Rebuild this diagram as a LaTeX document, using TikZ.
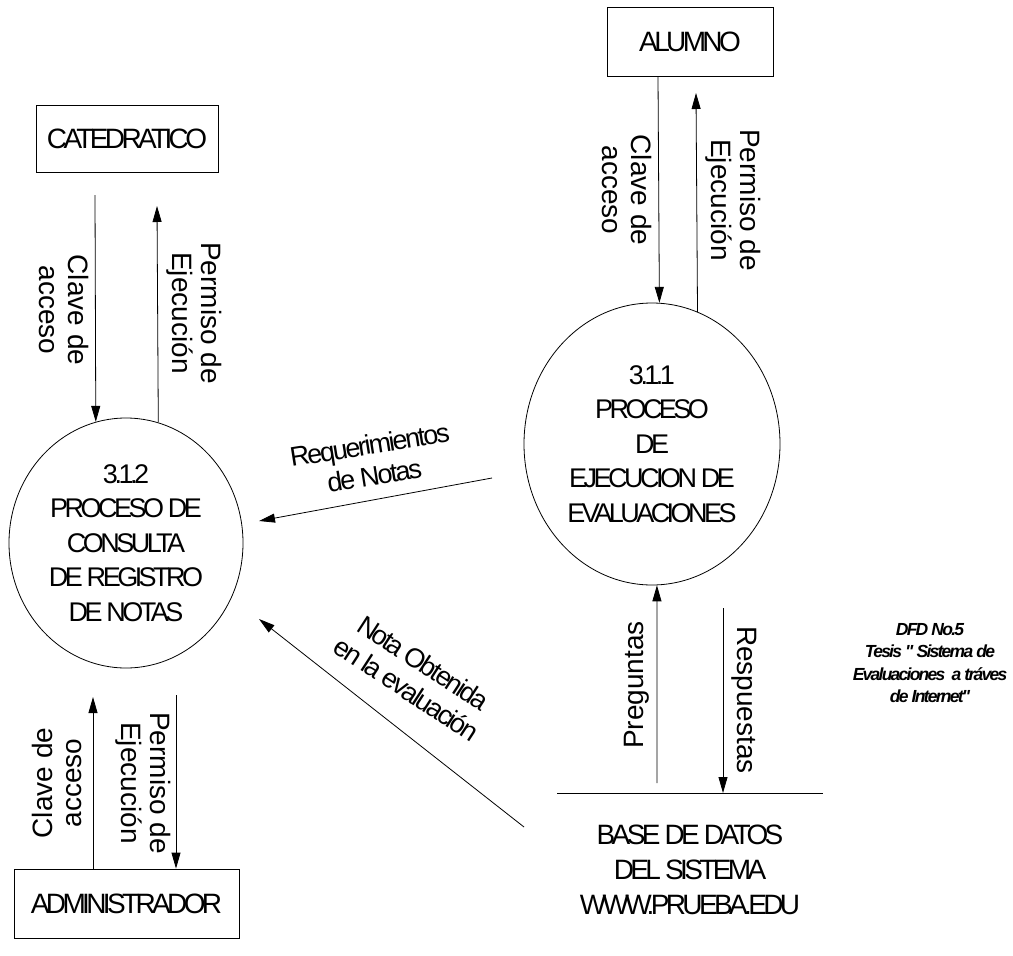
\documentclass[tikz,border=0pt]{standalone}
\usepackage{fontspec}
\setmainfont{Liberation Sans}
\newfontfamily\tightfont{Liberation Sans}[LetterSpace=-13]
\newfontfamily\looserfont{Liberation Sans}[LetterSpace=-8]
\newfontfamily\notefont{Liberation Sans}[LetterSpace=-10]
\usetikzlibrary{shapes.geometric,arrows.meta}

\tikzset{
  entity/.style={draw, line width=0.8pt, inner sep=0pt,
    font=\tightfont\fontsize{28}{30}\selectfont},
  process/.style={draw, ellipse, line width=0.8pt, inner sep=0pt, align=center,
    font=\tightfont\fontsize{27}{34.5}\selectfont},
  flow/.style={-{Triangle[length=16pt,width=9pt]}, line width=0.8pt},
  vlabel/.style={align=center, inner sep=0pt,
    font=\fontsize{28}{28.5}\selectfont},
  dlabel/.style={align=center, inner sep=0pt,
    font=\looserfont\fontsize{27}{31}\selectfont},
}

\begin{document}
\begin{tikzpicture}[x=1pt, y=-1pt]
\useasboundingbox (0,0) rectangle (1013,956);

% external entities
\node[entity, minimum width=182pt, minimum height=67pt] (cat) at (127,138.5) {CATEDRATICO};
\node[entity, minimum width=166pt, minimum height=69pt] (alu) at (690,41.5) {ALUMNO};
\node[entity, minimum width=225pt, minimum height=69pt] (adm) at (126.5,903.5) {ADMINISTRADOR};

% processes
\node[process, minimum width=234pt, minimum height=250pt] (p312) at (126,543)
  {3.1.2\\PROCESO DE\\CONSULTA\\DE REGISTRO\\DE NOTAS};
\node[process, minimum width=256pt, minimum height=282pt] (p311) at (652,444)
  {3.1.1\\PROCESO\\DE\\EJECUCION DE\\EVALUACIONES};

% data store
\coordinate (dbL) at (557,793);
\coordinate (dbR) at (823,793);
\draw[line width=0.8pt] (dbL) -- (dbR);
\node[align=center, inner sep=0pt, font=\tightfont\fontsize{28}{35}\selectfont] (db) at (690,870)
  {BASE DE DATOS\\DEL SISTEMA\\WWW.PRUEBA.EDU};

% flow end points
\coordinate (ca1) at (95,195);
\coordinate (pe1) at (157,206);
\coordinate (ca2) at (658,76);
\coordinate (pe2) at (696,93);
\coordinate (ca3) at (93,697);
\coordinate (pe3) at (176,695);
\coordinate (pr)  at (657,783);
\coordinate (rs)  at (723,608);
\coordinate (rq1) at (492,478);
\coordinate (rq2) at (259,521);
\coordinate (nt1) at (524,827);
\coordinate (nt2) at (259,619);

% flows
\draw[flow] (ca1) -- (p312.104.4);
\draw[flow] (p312.75.6) -- (pe1);
\draw[flow] (ca2) -- (p311.87.6);
\draw[flow] (p311.71.6) -- (pe2);
\draw[flow] (adm.north -| ca3) -- (ca3);
\draw[flow] (pe3) -- (pe3 |- adm.north);
\draw[flow] (pr) -- (p311.-88);
\draw[flow] (rs) -- (rs |- dbL);
\draw[flow] (rq1) -- (rq2);
\draw[flow] (nt1) -- (nt2);

% flow labels
\node[vlabel, rotate=-90] (l1) at (64,310) {Clave de\\acceso};
\node[vlabel, rotate=-90] (l2) at (194,313) {Permiso de\\Ejecución};
\node[vlabel, rotate=-90] (l3) at (627,190) {Clave de\\acceso};
\node[vlabel, rotate=-90] (l4) at (733,200) {Permiso de\\Ejecución};
\node[vlabel, rotate=90] (l5) at (57,783) {Clave de\\acceso};
\node[vlabel, rotate=-90] (l6) at (143,783) {Permiso de\\Ejecución};
\node[vlabel, rotate=90] (l7) at (637,685) {Preguntas};
\node[vlabel, rotate=-90] (l8) at (744,700) {Respuestas};
\node[dlabel, rotate=9] (l9) at (372,460) {Requerimientos\\de Notas};
\node[dlabel, rotate=-33] (l10) at (415,676) {Nota Obtenida\\en la evaluación};

% caption
\node[align=center, inner sep=0pt, font=\notefont\bfseries\itshape\fontsize{17.5}{22.5}\selectfont] (cap) at (930,663)
  {DFD No.5\\Tesis " Sistema de\\Evaluaciones\ \ a tráves\\de Internet"};
\end{tikzpicture}
\end{document}
